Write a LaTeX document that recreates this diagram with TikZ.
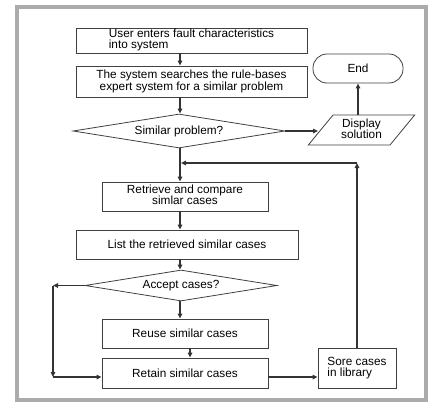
\documentclass[tikz,border=0pt]{standalone}
\usepackage{fontspec}
\setmainfont{Liberation Sans}
\usetikzlibrary{shapes.geometric,arrows.meta}
\begin{document}
\begin{tikzpicture}[x=1pt,y=-1pt,
  every node/.style={font=\fontsize{11.8}{13}\selectfont, inner sep=0pt, text=black},
  box/.style={draw=black!75, line width=0.8pt, minimum width=#1, rectangle},
  dia/.style={draw=black!75, line width=0.8pt, diamond},
  conn/.style={draw=black!80, line width=1.3pt, -{Triangle[length=5pt,width=4.5pt]}},
  plain/.style={draw=black!80, line width=1.3pt}
]
\useasboundingbox (0,0) rectangle (431,407);
\draw[line width=4pt, draw=black!33] (17,7) rectangle (426,400);

\node[box=231pt, minimum height=25pt] (b1) at (191.5,40.5)
  {\begin{tabular}{@{}l@{}}User enters fault characteristics\\[-2pt] into system\end{tabular}};
\node[box=231pt, minimum height=31pt] (b2) at (191.5,81.5)
  {\begin{tabular}{@{}c@{}}The system searches the rule-bases\\[-1pt]expert system for a similar problem\end{tabular}};
\node[dia, minimum width=212pt, minimum height=34pt, shape aspect=6.2] (d1) at (179,131) {Similar problem?};
\node[draw=black!75, line width=0.8pt, trapezium, trapezium left angle=53.7, trapezium right angle=126.3,
  trapezium stretches=true, minimum width=107pt, minimum height=30pt] (disp) at (361.5,130)
  {\begin{tabular}{@{}c@{}}Display\\[-2pt]solution\end{tabular}};
\node[draw=black!75, line width=0.8pt, rectangle, rounded corners=14pt, minimum width=90pt, minimum height=29pt] (end) at (358,68.5) {End};
\node[box=166pt, minimum height=29pt] (b3) at (185,196.5)
  {\begin{tabular}{@{}c@{}}Retrieve and compare\\[-2pt]simlar cases\end{tabular}};
\node[box=222pt, minimum height=29pt] (b4) at (187,244.5) {List the retrieved similar cases};
\node[dia, minimum width=192pt, minimum height=31pt, shape aspect=6.2] (d2) at (181,285.5) {Accept cases?};
\node[box=166pt, minimum height=29pt] (b5) at (185,333.5) {Reuse similar cases};
\node[box=166pt, minimum height=30pt] (b6) at (185,373) {Retain similar cases};
\node[box=78pt, minimum height=40pt] (sore) at (357,368)
  {\begin{tabular}{@{}l@{}}Sore cases\\[-2pt]in library\end{tabular}};

\coordinate (cl) at (53,285.5);
\coordinate (cb) at (53,377);
\coordinate (cr) at (357,163);
\coordinate (cm) at (181,163);

\draw[conn] (b1.south -| 180,0) -- (b2.north -| 180,0);
\draw[conn] (b2.south -| 180,0) -- (d1.north -| 180,0);
\draw[conn] (d1.south -| 180,0) -- (b3.north -| 180,0);
\draw[conn] (d1.east) -- (318,131);
\draw[conn] (disp.north -| end.south) -- (end.south);
\draw[conn] (b3.south -| 180,0) -- (b4.north -| 180,0);
\draw[conn] (b4.south -| 180,0) -- (d2.north -| 180,0);
\draw[conn] (d2.south -| 180,0) -- (b5.north -| 180,0);
\draw[conn] (b5.south -| 190,0) -- (b6.north -| 190,0);
\draw[conn] (d2.west) -- (cl);
\draw[conn] (cl) -- (cb);
\draw[conn] (cb) -- (b6.west |- cb);
\draw[conn] (b6.east |- cb) -- (sore.west |- cb);
\draw[conn] (sore.north) -- (cr);
\draw[conn] (cr) -- (cm);
\end{tikzpicture}
\end{document}
